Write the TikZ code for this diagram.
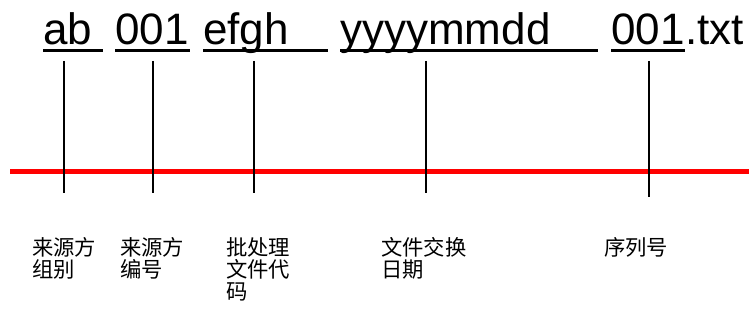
\documentclass[tikz,border=0pt]{standalone}
\usepackage{fontspec}
\setmainfont{Liberation Sans}
\newfontfamily\cjk{Noto Sans CJK SC}
\tikzset{
    part/.style={anchor=base west, inner sep=0pt, font=\fontsize{33}{36}\selectfont},
    meaning/.style={anchor=north west, inner sep=0pt, align=left,
        font=\cjk\fontsize{16}{16.8}\selectfont},
    uline/.style={line width=2.25pt},
    tick/.style={line width=0.8pt},
}
\begin{document}
\begin{tikzpicture}[x=0.75pt,y=-0.75pt]
        \useasboundingbox (0,0) rectangle (749,327);
        %% File name parts
        \node[part] (grp)  at (43,45)  {ab};
        \node[part] (src)  at (115,45) {001};
        \node[part] (bat)  at (203,45) {efgh};
        \node[part] (date) at (340,45) {yyyymmdd};
        \node[part] (seq)  at (611,45) {001};
        \node[part] (ext)  at (685,45) {.txt};
        %% Underlines
        \draw[uline] (grp.base west)  ++(0,5.5) -- ++(60,0);
        \draw[uline] (src.base west)  ++(0,5.5) -- ++(75,0);
        \draw[uline] (bat.base west)  ++(0,5.5) -- ++(125,0);
        \draw[uline] (date.base west) ++(0,5.5) -- ++(258,0);
        \draw[uline] (seq.base west)  ++(0,5.5) -- ++(74,0);
        %% Red axis
        \draw[red,line width=3.75pt] (10,171.5) -- (749,171.5);
        %% Ticks
        \foreach \x/\yb in {64/193,153/193,254/193,426/193,649/197}
            \draw[tick] (\x,61) -- (\x,\yb);
        %% Meanings
        \node[meaning] (grpm)  at (32,237)  {来源方\\组别};
        \node[meaning] (srcm)  at (120,237) {来源方\\编号};
        \node[meaning] (batm)  at (226,237) {批处理\\文件代\\码};
        \node[meaning] (datem) at (381,237) {文件交换\\日期};
        \node[meaning] (seqm)  at (604,237) {序列号};
    \end{tikzpicture}
\end{document}
